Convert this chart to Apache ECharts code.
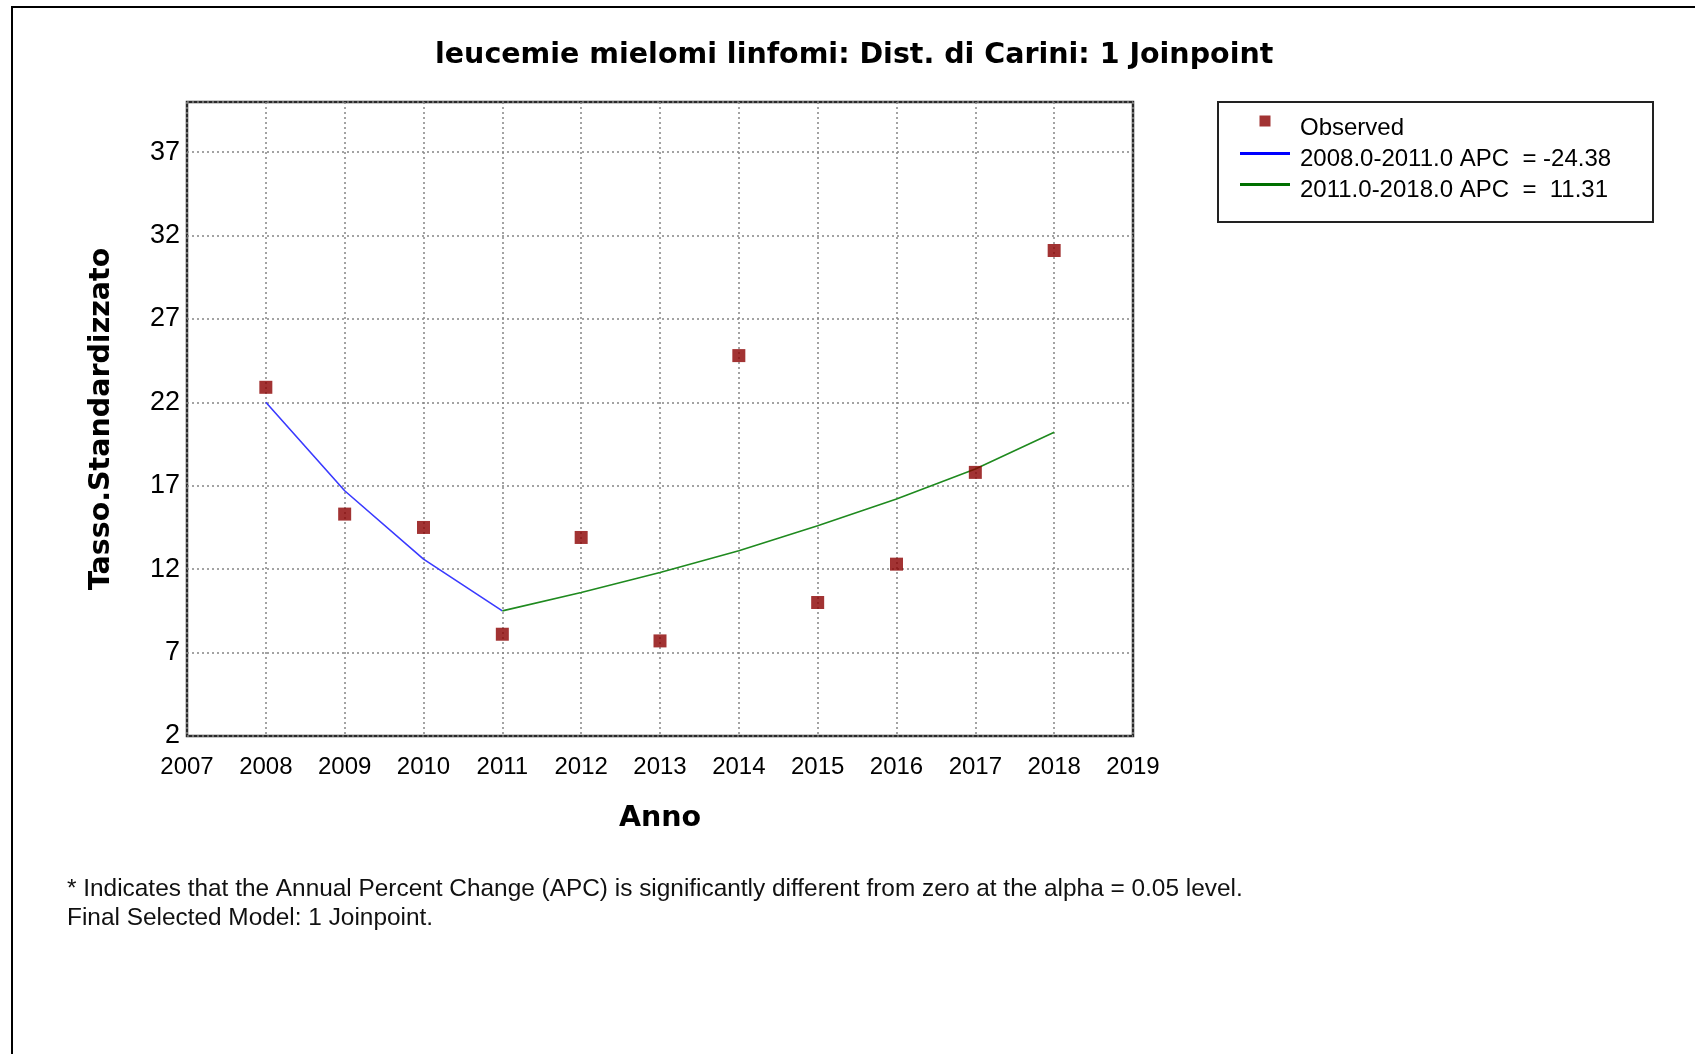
<!DOCTYPE html>
<html>
<head>
<meta charset="utf-8">
<script src="https://cdn.jsdelivr.net/npm/echarts@6/dist/echarts.min.js"></script>
<style>html,body{margin:0;padding:0;background:#fff;}#chart{width:1695px;height:1054px;}</style>
</head>
<body>
<div id="chart"></div>
<script>
// Data
const years = [2008, 2009, 2010, 2011, 2012, 2013, 2014, 2015, 2016, 2017, 2018];
const observed = [22.9, 15.3, 14.5, 8.1, 13.9, 7.7, 24.8, 10.0, 12.3, 17.8, 31.1];
const seg1Years = [2008, 2009, 2010, 2011];
const seg1Values = [22.0, 16.7, 12.6, 9.5];
const seg2Years = [2011, 2012, 2013, 2014, 2015, 2016, 2017, 2018];
const seg2Values = [9.5, 10.6, 11.8, 13.1, 14.6, 16.2, 18.0, 20.2];
const seriesNames = ['Observed', '2008.0-2011.0 APC  = -24.38', '2011.0-2018.0 APC  =  11.31'];
const titleText = 'leucemie mielomi linfomi: Dist. di Carini: 1 Joinpoint';
const footLines = ['* Indicates that the Annual Percent Change (APC) is significantly different from zero at the alpha = 0.05 level.',
                   'Final Selected Model: 1 Joinpoint.'];

const zip = (xs, ys) => xs.map((x, i) => [x, ys[i]]);
const chart = echarts.init(document.getElementById('chart'), null, {renderer: 'canvas'});
const splitStyle = {show: true, lineStyle: {color: '#858585', type: [2, 3], width: 1.5}};
const boldFont = {fontFamily: 'DejaVu Sans', fontWeight: 'bold', fontSize: 28.5, color: '#000'};
chart.setOption({
  animation: false,
  backgroundColor: '#fff',
  title: {
    text: titleText, left: 435, top: 41, padding: 0,
    textStyle: boldFont
  },
  grid: {left: 187, right: 562, top: 102, bottom: 318, show: true, borderColor: '#2a2a2a', borderWidth: 2.5, containLabel: false},
  xAxis: {
    type: 'value', min: 2007, max: 2019, interval: 1,
    name: 'Anno', nameLocation: 'middle', nameGap: 68,
    nameTextStyle: boldFont,
    axisLine: {show: false}, axisTick: {show: false},
    axisLabel: {fontFamily: 'Liberation Sans', fontSize: 24, color: '#000', margin: 19, formatter: v => String(v)},
    splitLine: splitStyle
  },
  yAxis: {
    type: 'value', min: 2, max: 40, interval: 5,
    name: 'Tasso.Standardizzato', nameLocation: 'middle', nameGap: 71, nameRotate: 90,
    nameTextStyle: boldFont,
    axisLine: {show: false}, axisTick: {show: false},
    axisLabel: {fontFamily: 'Liberation Sans', fontSize: 27, color: '#000', margin: 7, showMaxLabel: false},
    splitLine: splitStyle
  },
  legend: {
    orient: 'vertical', left: 1240, top: 113, padding: 0, itemWidth: 50, itemHeight: 26, itemGap: 0,
    textStyle: {fontFamily: 'Liberation Sans', fontSize: 24, color: '#000', lineHeight: 31, padding: [0, 0, 0, 5]},
    data: [
      {name: seriesNames[0], icon: 'path://M0,0M50,26M19.5,0h11v11h-11z'},
      {name: seriesNames[1], icon: 'path://M0,0M50,26M0,5.5h50v3h-50z'},
      {name: seriesNames[2], icon: 'path://M0,0M50,26M0,5.5h50v3h-50z'}
    ],
    selectedMode: false
  },
  graphic: [
    {type: 'rect', shape: {x: 12, y: 7, width: 1720, height: 1100}, style: {fill: 'none', stroke: '#000', lineWidth: 2}, silent: true},
    {type: 'rect', shape: {x: 1218, y: 102, width: 435, height: 120}, style: {fill: 'none', stroke: '#222', lineWidth: 2}, silent: true, z: -1},
    {type: 'text', left: 67, top: 877, style: {text: footLines[0], font: '24.4px "Liberation Sans"', fill: '#111'}},
    {type: 'text', left: 67, top: 906, style: {text: footLines[1], font: '24.4px "Liberation Sans"', fill: '#111'}}
  ],
  series: [
    {name: seriesNames[0], type: 'scatter', data: zip(years, observed), symbol: 'rect', symbolSize: 13,
     itemStyle: {color: '#8b0000'}, z: 5},
    {name: seriesNames[1], type: 'line', data: zip(seg1Years, seg1Values), symbol: 'none',
     lineStyle: {color: '#3a3aff', width: 1.6}, itemStyle: {color: '#0000ff'}},
    {name: seriesNames[2], type: 'line', data: zip(seg2Years, seg2Values), symbol: 'none',
     lineStyle: {color: '#1f8a1f', width: 1.6}, itemStyle: {color: '#007000'}}
  ]
});
</script>
</body>
</html>
